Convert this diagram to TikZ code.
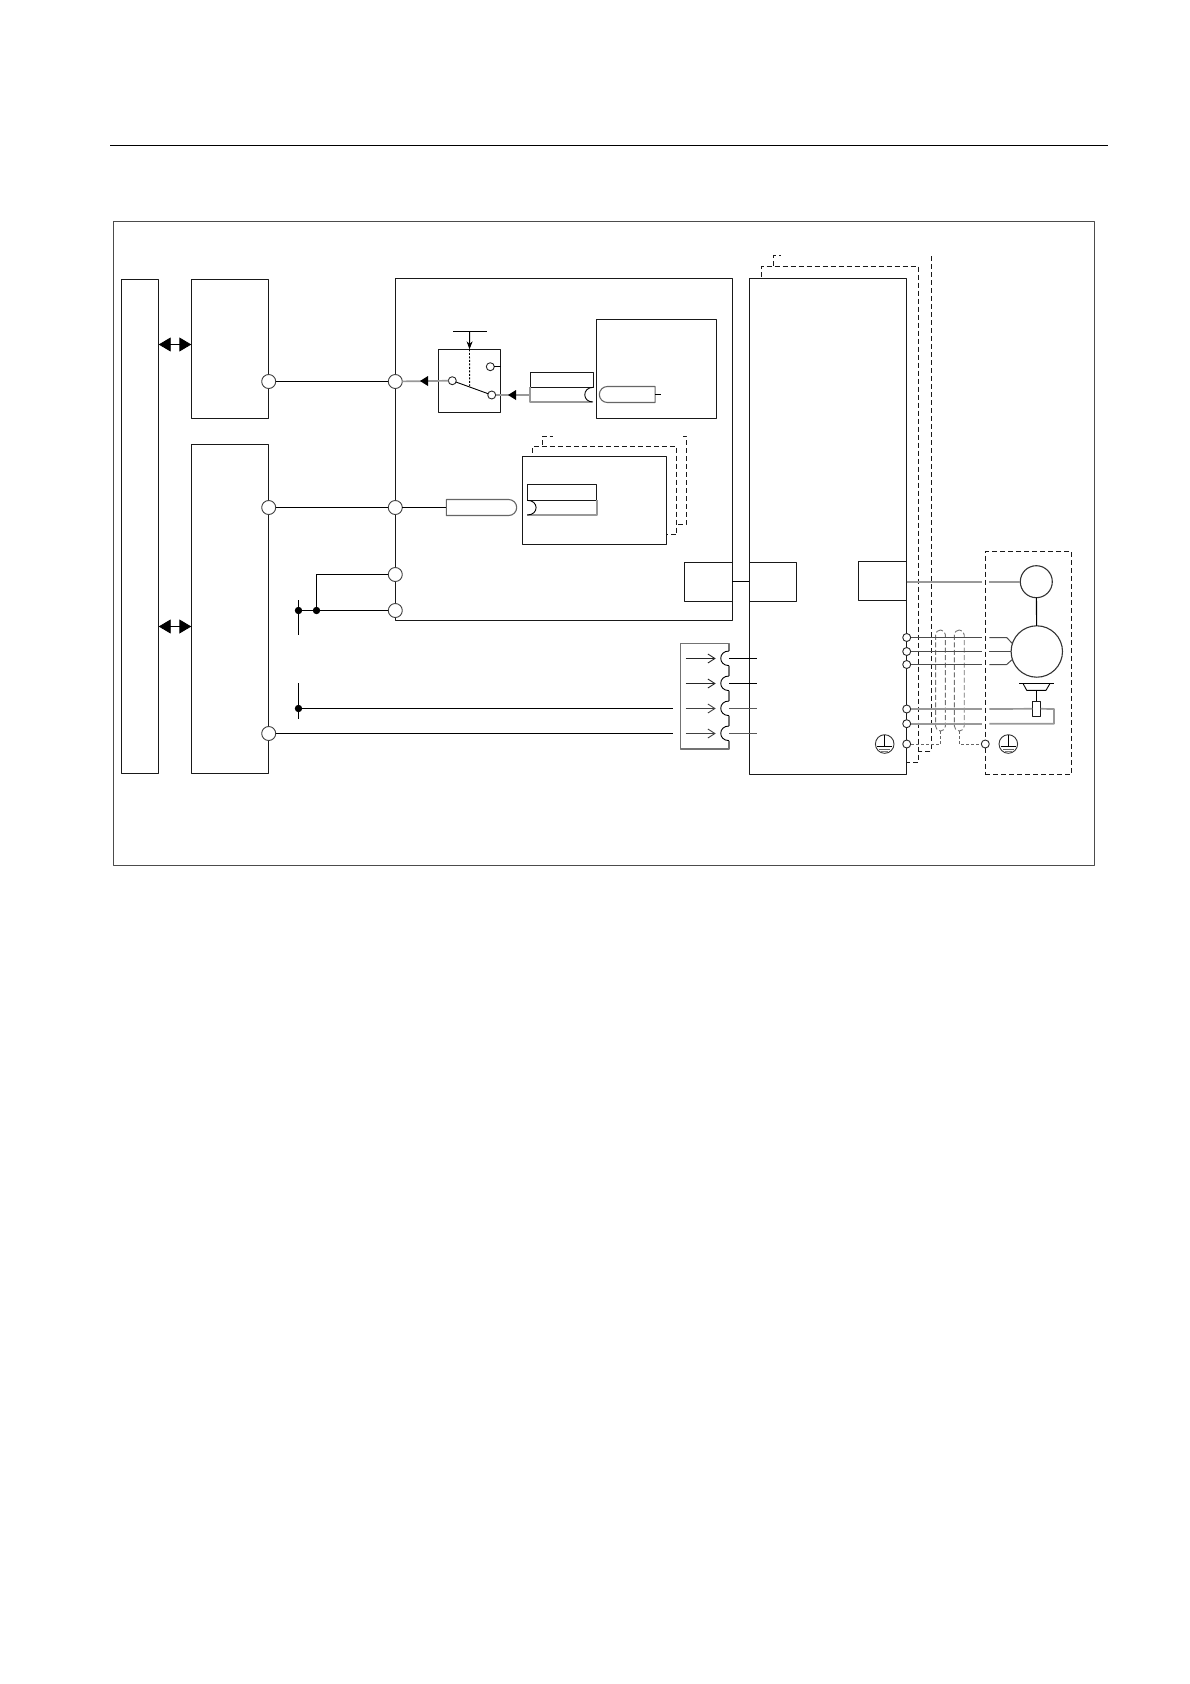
\documentclass[tikz,border=0pt]{standalone}
\usetikzlibrary{arrows.meta,shapes.misc}
\begin{document}
\begin{tikzpicture}[x=1pt, y=-1pt, line join=round, line width=1.1pt, >=stealth,
	boxn/.style={draw=black!90, anchor=north west, inner sep=0pt, outer sep=0pt},
	bigport/.style={circle, draw=black!75, fill=white, inner sep=0pt, outer sep=0pt, line width=0.9pt, minimum size=14pt},
	smallport/.style={circle, draw=black!85, fill=white, inner sep=0pt, outer sep=0pt, line width=0.9pt, minimum size=8pt},
	dotn/.style={circle, fill=black, inner sep=0pt, outer sep=0pt, minimum size=7.4pt},
	earthn/.style={circle, draw=black!80, inner sep=0pt, outer sep=0pt, line width=0.9pt, minimum size=18.6pt},
	plugn/.style={rounded rectangle, draw=black!60, fill=white, inner sep=0pt, outer sep=0pt, minimum height=16pt, line width=1.1pt},
	shieldn/.style={draw=black!55, rounded corners=4.8pt, inner sep=0pt, outer sep=0pt, line width=0.9pt, dash pattern=on 5pt off 2.5pt, minimum width=9.8pt, minimum height=101pt},
	dashwire/.style={draw=black!90, line width=1pt, dash pattern=on 5pt off 3pt},
	tailwire/.style={draw=black!60, line width=0.8pt, dash pattern=on 3pt off 2pt},
	graywire/.style={draw=black!40, line width=1.7pt},
	motorwire/.style={draw=black!70, line width=1pt},
	chevron/.style={-{Straight Barb[length=7pt,width=9pt]}, line width=0.9pt}]
	\useasboundingbox (0,0) rectangle (1190,1684);
	% Đường kẻ đầu trang và khung ngoài
	\coordinate (ruleL) at (110,145.5);
	\coordinate (ruleR) at (1108,145.5);
	\draw[black, line width=1pt] (ruleL) -- (ruleR);
	\node[boxn, draw=black!70, minimum width=981pt, minimum height=644.4pt] (frame) at (113.5,221.3) {};
	% Các khối bên trái
	\node[boxn, minimum width=37.4pt, minimum height=494.2pt] (host) at (121.3,279.3) {};
	\node[boxn, minimum width=77.4pt, minimum height=139pt] (upper) at (191.3,279.3) {};
	\node[boxn, minimum width=77.4pt, minimum height=329.2pt] (lower) at (191.3,444.3) {};
	% Mũi tên hai chiều
	\draw[{Triangle[length=12pt,width=14pt]}-{Triangle[length=12pt,width=14pt]}, line width=0.9pt] (host.east |- 0,344.5) -- (upper.west |- 0,344.5);
	\draw[{Triangle[length=12pt,width=14pt]}-{Triangle[length=12pt,width=14pt]}, line width=0.9pt] (host.east |- 0,626.5) -- (lower.west |- 0,626.5);
	% Khối lớn ở giữa
	\node[boxn, minimum width=337.4pt, minimum height=342.2pt] (unit) at (395.3,278.3) {};
	\node[boxn, minimum width=62.4pt, minimum height=63pt] (switchbox) at (438.3,349.3) {};
	\node[boxn, minimum width=120.4pt, minimum height=99pt] (cardA) at (596.3,319.3) {};
	\node[boxn, minimum width=144.4pt, minimum height=88pt] (cardB) at (522.3,456.3) {};
	\node[boxn, minimum width=48pt, minimum height=39pt] (linkL) at (684.3,562.3) {};
	% Khối bên phải
	\node[boxn, minimum width=157.4pt, minimum height=496pt] (drive) at (749.3,278.3) {};
	\node[boxn, minimum width=47.4pt, minimum height=39pt] (linkR) at (749.3,562.3) {};
	\node[boxn, minimum width=48.4pt, minimum height=39pt] (enc) at (858.3,561.3) {};
	\draw (linkL.east) -- (linkR.west);
	% Các thẻ chồng phía sau (nét đứt)
	\draw[dashwire] (532.3,452.7) -- (532.3,446.3) -- (676.7,446.3) -- (676.7,534.3) -- (cardB.east |- 0,534.3);
	\draw[dashwire] (542.7,445) -- (542.7,436) -- (552.7,436);
	\draw[dashwire] (683,436) -- (686.7,436) -- (686.7,524.3) -- (676.7,524.3);
	\draw[dashwire] (761.3,277) -- (761.3,266.3) -- (918.3,266.3) -- (918.3,762.3) -- (drive.east |- 0,762.3);
	\draw[dashwire] (773.3,265.7) -- (773.3,255.5) -- (780.7,255.5);
	\draw[dashwire] (931.3,256) -- (931.3,751) -- (918.3,751);
	% Các chân tròn
	\node[bigport] (p1) at (268.7,381.5) {};
	\node[bigport] (q1) at (395.3,381.5) {};
	\node[bigport] (p2) at (268.7,507.5) {};
	\node[bigport] (q2) at (395.3,507.5) {};
	\node[bigport] (q3) at (395.3,574.5) {};
	\node[bigport] (q4) at (395.3,610.5) {};
	\node[bigport] (p3) at (268.7,733.5) {};
	% Nguồn cấp bên trái
	\node[dotn] (d1) at (298.5,610.5) {};
	\node[dotn] (d2) at (316.5,610.5) {};
	\node[dotn] (d3) at (298.5,708.5) {};
	\draw (298.5,600) -- (298.5,635);
	\draw (298.5,683.3) -- (298.5,719);
	\draw (d1) -- (d2) -- (q4);
	\draw (d2) |- (q3);
	% Dây nối ra khối đầu cuối
	\coordinate (t3) at (672.7,708.5);
	\coordinate (t4) at (672.7,733.5);
	\draw (d3) -- (t3);
	\draw (p3) -- (t4);
	\draw (p1) -- (q1);
	\draw (p2) -- (q2);
	% Công tắc chuyển mạch
	\node[smallport] (sw1) at (452.3,380.7) {};
	\node[smallport] (sw2) at (491.7,395) {};
	\node[smallport] (sw3) at (490.3,366.7) {};
	\coordinate (barL) at (453,331.5);
	\coordinate (barR) at (486.7,331.5);
	\coordinate (barM) at (469.7,331.5);
	\coordinate (swmid) at (469.7,386.7);
	\draw (barL) -- (barR);
	\draw[-{Stealth[length=8pt,width=6pt]}, line width=0.9pt] (barM) -- (switchbox.north);
	\draw[line width=0.9pt, dash pattern=on 2pt off 1.5pt] (switchbox.north) -- (swmid);
	\draw[line width=0.9pt] (sw1) -- (sw2);
	\draw (sw3) -- (switchbox.east |- sw3);
	\draw[graywire] (q1) -- (sw1);
	\fill (428,376) -- (428,386) -- (420,381) -- cycle;
	% Đầu nối của thẻ trên
	\node[boxn, minimum width=63pt, minimum height=15pt] (conn1) at (530.3,372.3) {};
	\coordinate (conn1w) at (530.3,395);
	\draw[graywire] (conn1.south west) -- ++(0,14.7) -- ++(62,0);
	\draw[line width=0.9pt] (conn1.south east) .. controls (582,387.3) and (582,402) .. (593,402);
	\draw[graywire] (sw2) -- (conn1w);
	\fill (516,390) -- (516,400) -- (508,395) -- cycle;
	\node[plugn, rounded rectangle east arc=none, minimum width=55.7pt] (plug1) at (627.2,394.5) {};
	\draw (plug1.east) -- ++(5.7,0);
	% Đầu nối của thẻ dưới
	\node[plugn, rounded rectangle west arc=none, minimum width=70.4pt] (plug2) at (481.5,507.5) {};
	\draw (q2) -- (plug2.west);
	\node[boxn, minimum width=69.4pt, minimum height=16pt] (conn2) at (527.3,484.3) {};
	\draw[graywire] (conn2.south east) -- ++(0,14.7) -- ++(-69.4,0);
	\draw[line width=0.9pt] (conn2.south west) .. controls (539,500.3) and (539,515) .. (527.3,515);
	% Khối đầu cuối có bốn khe
	\draw[black!55, line width=1.1pt] (729,651) -- (729,643.3) -- (680.7,643.3) -- (680.7,749) -- (729,749) -- (729,740.6);
	\draw[black!55, line width=1.1pt] (729,665.6) -- (729,676) (729,690.6) -- (729,701) (729,715.6) -- (729,726);
	\draw[line width=0.9pt] (729,651) .. controls (718,651) and (718,665.6) .. (729,665.6);
	\draw[line width=0.9pt] (729,676) .. controls (718,676) and (718,690.6) .. (729,690.6);
	\draw[line width=0.9pt] (729,701) .. controls (718,701) and (718,715.6) .. (729,715.6);
	\draw[line width=0.9pt] (729,726) .. controls (718,726) and (718,740.6) .. (729,740.6);
	\coordinate (in1) at (685.7,658.5);
	\coordinate (in2) at (685.7,683.5);
	\coordinate (in3) at (685.7,708.5);
	\coordinate (in4) at (685.7,733.5);
	\coordinate (out1) at (715.7,658.5);
	\coordinate (out2) at (715.7,683.5);
	\coordinate (out3) at (715.7,708.5);
	\coordinate (out4) at (715.7,733.5);
	\draw[chevron, black!85] (in1) -- (out1);
	\draw[chevron, black!85] (in2) -- (out2);
	\draw[chevron, black!75] (in3) -- (out3);
	\draw[chevron, black!75] (in4) -- (out4);
	\draw (729,658.5) -- (757,658.5);
	\draw (729,683.5) -- (757,683.5);
	\draw[black!65] (729,708.5) -- (757,708.5);
	\draw[black!65] (729,733.5) -- (757,733.5);
	% Khối động cơ (nét đứt)
	\node[boxn, dashwire, minimum width=86.4pt, minimum height=223pt] (motorbox) at (985.3,551.3) {};
	\node[circle, draw=black!80, inner sep=0pt, outer sep=0pt, minimum size=32pt] (sensor) at (1036.3,581.7) {};
	\node[circle, draw=black!80, inner sep=0pt, outer sep=0pt, minimum size=51.4pt] (motor) at (1036.8,651.5) {};
	\draw (sensor) -- (motor);
	% Phanh và điện trở
	\coordinate (brakeL) at (1019,683.5);
	\coordinate (brakeR) at (1053.7,683.5);
	\draw[line width=0.9pt] (brakeL) -- (brakeR);
	\draw[line width=0.9pt] (1023,683.5) -- (1026.7,690.3) -- (1046,690.3) -- (1050,683.5);
	\node[boxn, anchor=center, fill=white, minimum width=8.4pt, minimum height=15pt] (coil) at (1036.5,708.8) {};
	% Các chân trên biên khối phải
	\node[smallport] (s1) at (906.7,637.5) {};
	\node[smallport] (s2) at (906.7,651.5) {};
	\node[smallport] (s3) at (906.7,664.5) {};
	\node[smallport] (s4) at (906.7,709) {};
	\node[smallport] (s5) at (906.7,723.7) {};
	\node[smallport] (s6) at (906.7,744) {};
	\node[smallport] (s7) at (985.3,744) {};
	% Lớp vỏ chống nhiễu
	\node[shieldn] (shield1) at (940.5,680.5) {};
	\node[shieldn] (shield2) at (959.3,680.5) {};
	\draw[tailwire] (shield1.south) |- (s6);
	\draw[tailwire] (shield2.south) |- (s7);
	% Dây đi qua khe hở của khung nét đứt
	\coordinate (g0a) at (982,581.7);
	\coordinate (g0b) at (989.3,581.7);
	\coordinate (g1a) at (982,637.5);
	\coordinate (g1b) at (989.3,637.5);
	\coordinate (g1c) at (1006.7,637.5);
	\coordinate (g2a) at (982,651.5);
	\coordinate (g2b) at (989.3,651.5);
	\coordinate (g3a) at (982,664.5);
	\coordinate (g3b) at (989.3,664.5);
	\coordinate (g3c) at (1006.7,664.5);
	\coordinate (g4a) at (982,709);
	\coordinate (g4b) at (989.3,709);
	\coordinate (g5a) at (982,723.7);
	\coordinate (g5b) at (989.3,723.7);
	\coordinate (back) at (1054,709);
	\coordinate (backd) at (1054,723.7);
	\draw[graywire] (enc.east |- sensor) -- (g0a);
	\draw[graywire] (g0b) -- (sensor);
	\draw[motorwire] (s1) -- (g1a);
	\draw[motorwire] (g1b) -- (g1c) -- (motor.162);
	\draw[motorwire] (s2) -- (g2a);
	\draw[motorwire] (g2b) -- (motor.west);
	\draw[motorwire] (s3) -- (g3a);
	\draw[motorwire] (g3b) -- (g3c) -- (motor.198);
	\draw[graywire] (s4) -- (g4a);
	\draw[graywire] (g4b) -- (coil.west);
	\draw[graywire] (coil.east) -- (back) -- (backd) -- (g5b);
	\draw[graywire] (s5) -- (g5a);
	\coordinate (brakeM) at (1036.5,690.3);
	\draw (brakeM) -- (coil.north);
	% Ký hiệu nối đất
	\node[earthn] (earth1) at (884.7,744) {};
	\node[earthn] (earth2) at (1008.3,744) {};
	\draw[line width=0.8pt] (earth1.north) -- ++(0,11.5);
	\draw[line width=0.8pt] (884.7-7.5,746.5) -- (884.7+7.5,746.5);
	\draw[black!60, line width=0.8pt] (884.7-5.5,749) -- (884.7+5.5,749);
	\draw[black!50, line width=0.8pt] (884.7-3.5,751) -- (884.7+3.5,751);
	\draw[line width=0.8pt] (earth2.north) -- ++(0,11.5);
	\draw[line width=0.8pt] (1008.3-7.5,746.5) -- (1008.3+7.5,746.5);
	\draw[black!60, line width=0.8pt] (1008.3-5.5,749) -- (1008.3+5.5,749);
	\draw[black!50, line width=0.8pt] (1008.3-3.5,751) -- (1008.3+3.5,751);
\end{tikzpicture}
\end{document}
